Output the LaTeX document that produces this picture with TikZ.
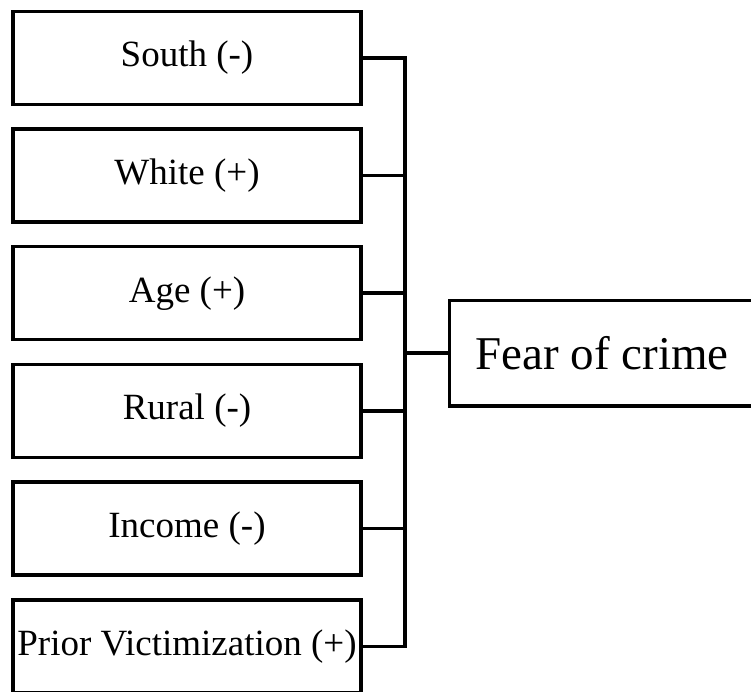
\documentclass[tikz,border=0pt]{standalone}
\usepackage{fontspec}
\setmainfont{Liberation Serif}
\usetikzlibrary{positioning}

\begin{document}
\begin{tikzpicture}[x=1pt, y=-1pt,
  factor/.style={draw=black, line width=3.5pt, minimum width=348pt,
    minimum height=93pt, inner sep=0pt, font=\fontsize{37}{44}\selectfont},
  outcome/.style={draw=black, line width=3.5pt, minimum width=305pt,
    minimum height=105.5pt, inner sep=0pt, font=\fontsize{47}{56}\selectfont},
  link/.style={line width=3.5pt, line join=miter}]
\clip (0,0) rectangle (751,692);
% factors
\node[factor] (south) at (187, 58.0) {South (-)};
\node[factor] (white) at (187,175.6) {White (+)};
\node[factor] (age) at (187,293.2) {Age (+)};
\node[factor] (rural) at (187,410.8) {Rural (-)};
\node[factor] (income) at (187,528.4) {Income (-)};
\node[factor] (prior) at (187,646.5) {Prior Victimization (+)};
% outcome
\node[outcome] (fear) at (602,353) {Fear of crime};
% bus line
\coordinate (bus) at (405,353);
\draw[link] (south.east) -| (bus |- prior.east) -- (prior.east);
\draw[link] (white.east) -- (bus |- white.east);
\draw[link] (age.east) -- (bus |- age.east);
\draw[link] (rural.east) -- (bus |- rural.east);
\draw[link] (income.east) -- (bus |- income.east);
\draw[link] (bus) -- (fear.west);
\end{tikzpicture}
\end{document}
